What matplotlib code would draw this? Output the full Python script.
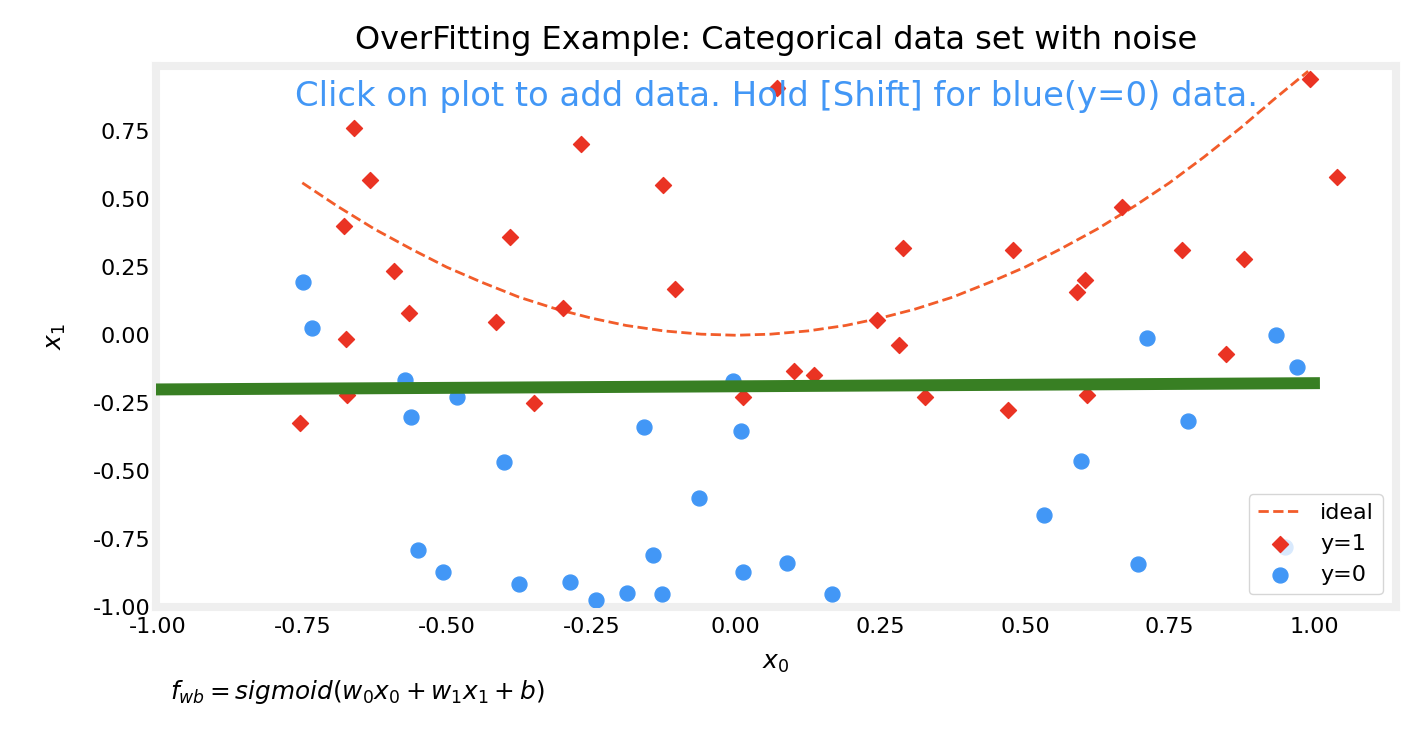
import matplotlib.pyplot as plt

# y=1 points (diamonds)
pos_x0 = [-0.754, -0.661, -0.633, -0.678, -0.592, -0.566, -0.675, -0.673, -0.415, -0.391,
          -0.349, -0.299, -0.268, -0.126, -0.106, 0.071, 0.012, 0.100, 0.135, 0.244,
          0.282, 0.289, 0.327, 0.471, 0.479, 0.590, 0.604, 0.607, 0.668, 0.772,
          0.848, 0.879, 0.993, 1.040]
pos_x1 = [-0.324, 0.761, 0.570, 0.401, 0.235, 0.081, -0.015, -0.221, 0.048, 0.360,
          -0.250, 0.099, 0.702, 0.551, 0.169, 0.908, -0.228, -0.132, -0.147, 0.055,
          -0.037, 0.320, -0.228, -0.276, 0.313, 0.158, 0.202, -0.221, 0.471, 0.313,
          -0.070, 0.279, 0.941, 0.581]

# y=0 points (circles)
neg_x0 = [-0.749, -0.734, -0.573, -0.562, -0.483, -0.401, -0.550, -0.507, -0.375, -0.287,
          -0.242, -0.189, -0.159, -0.144, -0.128, -0.064, -0.005, 0.009, 0.012, 0.088,
          0.166, 0.533, 0.597, 0.696, 0.711, 0.782, 0.934, 0.971, 0.950]
neg_x1 = [0.195, 0.026, -0.165, -0.301, -0.228, -0.467, -0.787, -0.868, -0.915, -0.908,
          -0.974, -0.945, -0.338, -0.809, -0.949, -0.596, -0.169, -0.353, -0.871, -0.835,
          -0.949, -0.662, -0.463, -0.842, -0.011, -0.316, 0.000, -0.118, -0.779]

# ideal boundary
ideal_x0 = [-0.75, -0.69, -0.625, -0.56, -0.5, -0.44, -0.375, -0.31, -0.25, -0.19,
            -0.125, -0.06, 0.0, 0.06, 0.125, 0.19, 0.25, 0.31, 0.375, 0.44,
            0.5, 0.56, 0.625, 0.69, 0.75, 0.81, 0.875, 0.93, 0.99]
ideal_x1 = [0.56, 0.475, 0.39, 0.315, 0.25, 0.195, 0.14, 0.096, 0.063, 0.036,
            0.016, 0.004, 0.0, 0.004, 0.016, 0.036, 0.063, 0.096, 0.14, 0.195,
            0.25, 0.315, 0.39, 0.475, 0.56, 0.655, 0.765, 0.865, 0.97]

# fitted linear boundary
fit_x0 = [-1.0, 1.0]
fit_x1 = [-0.199, -0.176]

red = '#EA3323'
blue = '#4297F6'
green = '#387F23'
orange = '#F25C2A'

fig = plt.figure(figsize=(14.16, 7.32), dpi=100)
ax = fig.add_axes([0.1102, 0.1701, 0.8757, 0.7397])

ax.plot(ideal_x0, ideal_x1, '--', color=orange, lw=2, label='ideal', zorder=2)
ax.scatter(pos_x0, pos_x1, marker='D', s=66, c=red, label='y=1', zorder=3)
ax.scatter(neg_x0, neg_x1, marker='o', s=115, c=blue, label='y=0', zorder=3)
ax.plot(fit_x0, fit_x1, color=green, lw=8.6, zorder=4)

ax.set_xlim(-1.003, 1.142)
ax.set_ylim(-1.0, 0.989)
ax.set_xticks([-1.0, -0.75, -0.5, -0.25, 0.0, 0.25, 0.5, 0.75, 1.0])
ax.set_yticks([-1.0, -0.75, -0.5, -0.25, 0.0, 0.25, 0.5, 0.75])
ax.xaxis.set_major_formatter(plt.FormatStrFormatter('%.2f'))
ax.yaxis.set_major_formatter(plt.FormatStrFormatter('%.2f'))
ax.tick_params(axis='x', length=0, labelsize=16, pad=7)
ax.tick_params(axis='y', length=0, labelsize=16, pad=4)
for sp in ax.spines.values():
    sp.set_color('#efefef')
    sp.set_linewidth(5.8)

ax.set_title('OverFitting Example: Categorical data set with noise', fontsize=23, pad=12)
ax.set_xlabel('$x_0$', fontsize=18, labelpad=10)
ax.set_ylabel('$x_1$', fontsize=18, labelpad=18)
ax.text(0.5, 0.975, 'Click on plot to add data. Hold [Shift] for blue(y=0) data.',
        transform=ax.transAxes, ha='center', va='top', fontsize=24.4, color=blue)
fig.text(0.12, 0.045, '$f_{wb} = sigmoid(w_0x_0 + w_1x_1 + b)$', fontsize=17.8)

ax.legend(loc='lower right', fontsize=16, borderaxespad=0.6)

fig.savefig('out.png', dpi=100)
